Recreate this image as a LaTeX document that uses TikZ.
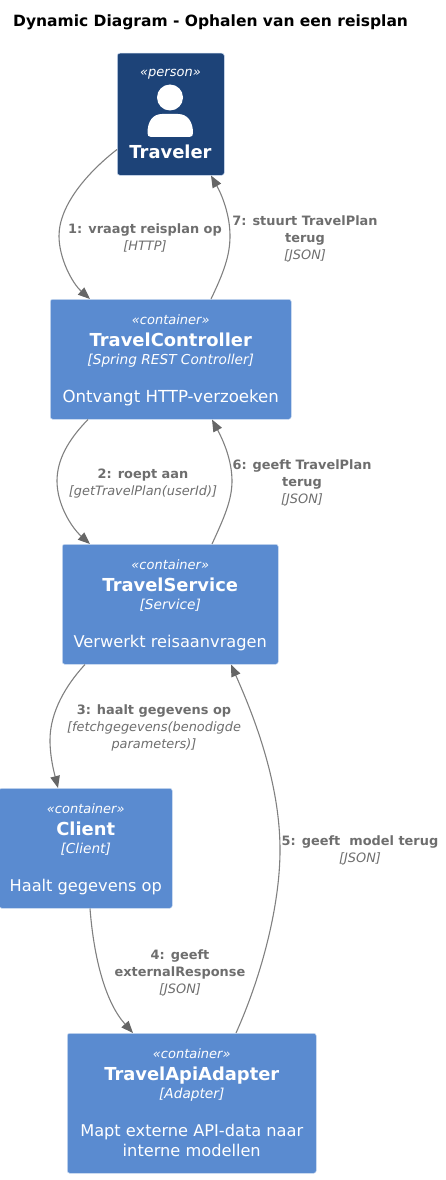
\documentclass[tikz,border=0pt]{standalone}
\usepackage{fontspec}
\setmainfont{DejaVu Sans}
\definecolor{pers}{HTML}{1D4378}
\definecolor{cont}{HTML}{5A8BD0}
\definecolor{edgec}{HTML}{808080}
\definecolor{tipc}{HTML}{666666}
\definecolor{labc}{HTML}{6E6E6E}
\usetikzlibrary{arrows.meta}
\newcommand{\strt}[2]{\rule[-#2pt]{0pt}{\dimexpr#1pt+#2pt\relax}}
\newcommand{\ster}[1]{\strt{13}{4}{\fontsize{13}{17}\selectfont\itshape #1}}
\newcommand{\nam}[1]{\strt{18}{4}{\fontsize{17.9}{22}\selectfont\bfseries #1}}
\newcommand{\tec}[1]{\strt{14}{4}{\fontsize{13.7}{17}\selectfont\itshape #1}}
\newcommand{\des}[1]{\strt{34}{4}{\fontsize{16.2}{19}\selectfont #1}}
\newcommand{\desw}[1]{\strt{34}{4}{\fontsize{16.6}{19}\selectfont #1}}
\newcommand{\dess}[1]{\strt{16}{4}{\fontsize{16.2}{19}\selectfont #1}}
\newcommand{\lb}[1]{\strt{13}{4}{\fontsize{12.9}{16.5}\selectfont\bfseries #1}}
\newcommand{\lt}[1]{\strt{13}{4}{\fontsize{12.9}{16.5}\selectfont\itshape #1}}
\tikzset{
  x=1pt,y=-1pt,
  box/.style={draw=white!70!cont,line width=.5pt,rounded corners=2.5pt,text=white,align=center,inner sep=0pt,anchor=north west,execute at begin node={\baselineskip=0pt\lineskip=0pt\lineskiplimit=0pt}},
  ctr/.style={box,fill=cont},
  prs/.style={box,fill=pers},
  elabel/.style={text=labc,align=center,inner sep=0pt,anchor=center,execute at begin node={\baselineskip=0pt\lineskip=0pt\lineskiplimit=0pt}},
  rel/.style={draw=edgec,line width=1.1pt,-{Triangle[length=12pt,width=9.5pt,color=tipc]}},
}
\begin{document}
\begin{tikzpicture}
\useasboundingbox (0,0) rectangle (446,1180);
\node[inner sep=0pt,anchor=west] (title) at (13,22.5) {\fontsize{15.5}{18}\selectfont\bfseries Dynamic Diagram - Ophalen van een reisplan};

\node[prs,minimum width=107pt,minimum height=122pt] (traveler) at (117,53) {};
\node[inner sep=0pt,text=white] (pst) at (170.5,74.5) {{\fontsize{13}{17}\selectfont\itshape «person»}};
\node[inner sep=0pt,text=white] (pnm) at (170.5,152) {{\fontsize{17.9}{22}\selectfont\bfseries Traveler}};
\fill[white] (170,97.5) circle (13);
\fill[white] (147.5,133) .. controls (147.5,121) and (153,114) .. (162,114) -- (178,114) .. controls (187,114) and (193,121) .. (193,133) .. controls (193,135.5) and (192,136.8) .. (190,136.8) -- (150.5,136.8) .. controls (148.5,136.8) and (147.5,135.5) .. (147.5,133) -- cycle;

\node[ctr,minimum width=241pt,minimum height=120pt] (controller) at (50,299) {\ster{«container»}\\\nam{TravelController}\\\tec{[Spring REST Controller]}\\\desw{Ontvangt HTTP-verzoeken}};
\node[ctr,minimum width=216pt,minimum height=120pt] (service) at (62,544) {\ster{«container»}\\\nam{TravelService}\\\tec{[Service]}\\\des{Verwerkt reisaanvragen}};
\node[ctr,minimum width=173pt,minimum height=120pt] (client) at (-1,788) {\ster{«container»}\\\nam{Client}\\\tec{[Client]}\\\des{Haalt gegevens op}};
\node[ctr,minimum width=249pt,minimum height=140pt] (adapter) at (67,1033) {\ster{«container»}\\\nam{TravelApiAdapter}\\\tec{[Adapter]}\\\des{Mapt externe API-data naar}\\\dess{interne modellen}};

% connectors: offsets from the box corners
\draw[rel] ([yshift=26pt]traveler.south west) .. controls (88,172) and (59,205) .. (59,236) .. controls (59,258) and (72,283) .. ([xshift=40pt]controller.north west);
\draw[rel] ([xshift=161pt]controller.north west) .. controls (224,272) and (230,255) .. (230,236) .. controls (230,215) and (222,195) .. ([xshift=94pt]traveler.south west);
\draw[rel] ([xshift=38pt]controller.south west) .. controls (68,440) and (57,460) .. (57,481) .. controls (57,505) and (72,528) .. ([xshift=28pt]service.north west);
\draw[rel] ([xshift=150pt]service.north west) .. controls (224,518) and (232,500) .. (232,481) .. controls (232,460) and (223,440) .. ([xshift=162pt]controller.south west);
\draw[rel] ([xshift=23pt]service.south west) .. controls (66,685) and (50,712) .. (50,740) .. controls (50,757) and (54,772) .. ([xshift=59pt]client.north west);
\draw[rel] ([xshift=91pt]client.south west) .. controls (94,960) and (106,1003) .. ([xshift=66pt]adapter.north west);
\draw[rel] ([xshift=169pt]adapter.north west) .. controls (262,975) and (280,905) .. (280,850) .. controls (280,780) and (252,712) .. ([xshift=169pt]service.south west);

\node[elabel] (l1) at (145,237) {\lb{1: vraagt reisplan op}\\\lt{[HTTP]}};
\node[elabel] (l7) at (305,238) {\lb{7: stuurt TravelPlan}\\\lb{terug}\\\lt{[JSON]}};
\node[elabel] (l2) at (143,482) {\lb{2: roept aan}\\\lt{[getTravelPlan(userId)]}};
\node[elabel] (l6) at (302,482) {\lb{6: geeft TravelPlan}\\\lb{terug}\\\lt{[JSON]}};
\node[elabel] (l3) at (154,727) {\lb{3: haalt gegevens op}\\\lt{[fetchgegevens(benodigde}\\\lt{parameters)]}};
\node[elabel] (l4) at (180,971.5) {\lb{4: geeft}\\\lb{externalResponse}\\\lt{[JSON]}};
\node[elabel] (l5) at (360,849) {\lb{5: geeft \ model terug}\\\lt{[JSON]}};
\end{tikzpicture}
\end{document}
